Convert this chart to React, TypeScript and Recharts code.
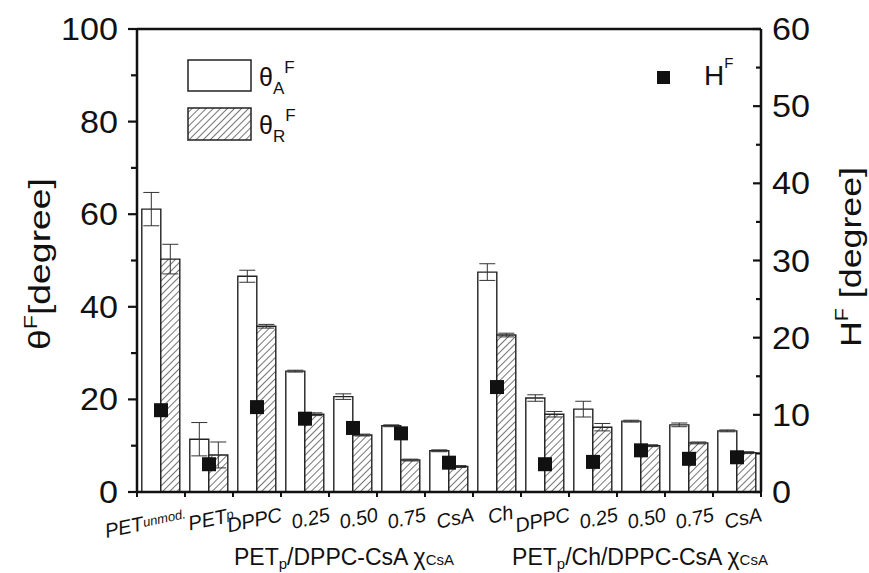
import React from "react";
import { ComposedChart, Bar, Scatter, XAxis, YAxis, ErrorBar, ReferenceLine } from "recharts";

// group members, "_" marks the small subscript part of a label
const categories = ["PET_unmod.", "PET_p", "DPPC", "0.25", "0.50", "0.75", "CsA", "Ch", "DPPC", "0.25", "0.50", "0.75", "CsA"];
const thetaA = [61.1, 11.4, 46.6, 26.1, 20.6, 14.3, 8.9, 47.5, 20.3, 17.9, 15.3, 14.5, 13.2];
const thetaAErr = [3.6, 3.6, 1.3, 0.2, 0.6, 0.2, 0.2, 1.8, 0.7, 1.7, 0.2, 0.4, 0.2];
const thetaR = [50.3, 8.0, 35.8, 16.8, 12.3, 6.9, 5.5, 33.9, 16.8, 14.0, 10.0, 10.6, 8.5];
const thetaRErr = [3.2, 2.8, 0.4, 0.3, 0.2, 0.2, 0.2, 0.4, 0.6, 0.8, 0.2, 0.2, 0.2];
const hf = [10.6, 3.6, 11.0, 9.5, 8.3, 7.6, 3.8, 13.6, 3.6, 3.9, 5.4, 4.3, 4.5];

const leftTicks = [0, 10, 20, 30, 40, 50, 60, 70, 80, 90, 100];
const rightTicks = [0, 5, 10, 15, 20, 25, 30, 35, 40, 45, 50, 55, 60];

const data = categories.map((name, i) => ({
  id: String(i),
  name,
  thetaA: thetaA[i],
  thetaAErr: thetaAErr[i],
  thetaR: thetaR[i],
  thetaRErr: thetaRErr[i],
  hf: hf[i],
}));

const W = 869;
const H = 573;
const LEFT_W = 137;
const RIGHT_W = 108;
const band = (W - LEFT_W - RIGHT_W) / categories.length;
const FONT = '"Liberation Sans", Arial, Helvetica, sans-serif';
const INK = "#111";
const DIGIT_W = 19;

function LeftTick({ x, y, payload }: any) {
  const v = payload.value;
  const major = v % 20 === 0;
  return (
    <g>
      <line x1={x - (major ? 9 : 6)} x2={x} y1={y} y2={y} stroke={INK} strokeWidth={2.2} />
      {major && (
        <text
          x={x - 19}
          y={y}
          dy={11}
          textAnchor="end"
          fontSize={31}
          fill={INK}
          fontFamily={FONT}
          textLength={String(v).length * DIGIT_W}
          lengthAdjust="spacingAndGlyphs"
        >
          {v}
        </text>
      )}
    </g>
  );
}

function RightTick({ x, y, payload }: any) {
  const v = payload.value;
  const major = v % 10 === 0;
  return (
    <g>
      <line x1={x - (major ? 8 : 5)} x2={x} y1={y} y2={y} stroke={INK} strokeWidth={2.2} />
      {major && (
        <text
          x={x + 11}
          y={y}
          dy={11}
          textAnchor="start"
          fontSize={31}
          fill={INK}
          fontFamily={FONT}
          textLength={String(v).length * DIGIT_W}
          lengthAdjust="spacingAndGlyphs"
        >
          {v}
        </text>
      )}
    </g>
  );
}

function XTick({ x, y, payload }: any) {
  const i = Number(payload.value);
  const [main, sub] = categories[i].split("_");
  const last = i === categories.length - 1;
  const short = categories[i].length <= 2;
  const tx = short ? x + 5 : x + 26;
  const ty = y + 29;
  return (
    <g>
      <line x1={x - band / 2} x2={x - band / 2} y1={y} y2={y + 5} stroke={INK} strokeWidth={2} />
      {last && <line x1={x + band / 2} x2={x + band / 2} y1={y} y2={y + 5} stroke={INK} strokeWidth={2} />}
      <text
        x={tx}
        y={ty}
        transform={`rotate(-12 ${tx} ${ty})`}
        textAnchor={short ? "middle" : "end"}
        fontStyle="italic"
        fontSize={20}
        fill={INK}
        fontFamily={FONT}
      >
        {main}
        {sub && (
          <tspan fontSize={13} dy={-3}>
            {sub}
          </tspan>
        )}
      </text>
    </g>
  );
}

const Square = (props: any) => (
  <rect x={props.cx - 7} y={props.cy - 7} width={14} height={14} fill={INK} />
);

function Overlay() {
  return (
    <svg width={W} height={H} style={{ position: "absolute", left: 0, top: 0, pointerEvents: "none" }}>
      <defs>
        <pattern id="hatch" width={5} height={5} patternUnits="userSpaceOnUse" patternTransform="rotate(45)">
          <rect width={5} height={5} fill="#fff" />
          <line x1={2.5} y1={0} x2={2.5} y2={5} stroke="#666" strokeWidth={0.9} />
        </pattern>
      </defs>

      {/* legend */}
      <rect x={188} y={60} width={63} height={31} fill="#fff" stroke="#222" strokeWidth={1.5} />
      <text x={259} y={86} fontSize={25} fill={INK} fontFamily={FONT}>
        θ<tspan fontSize={17} dy={8}>A</tspan>
        <tspan fontSize={17} dy={-21}>F</tspan>
      </text>
      <rect x={188} y={108} width={63} height={32} fill="url(#hatch)" stroke="#222" strokeWidth={1.5} />
      <text x={259} y={134} fontSize={25} fill={INK} fontFamily={FONT}>
        θ<tspan fontSize={17} dy={8}>R</tspan>
        <tspan fontSize={17} dy={-21}>F</tspan>
      </text>
      <rect x={657} y={71} width={13} height={13} fill={INK} />
      <text x={704} y={85} fontSize={28} fill={INK} fontFamily={FONT}>
        H<tspan fontSize={15} dy={-17}>F</tspan>
      </text>

      {/* axis titles */}
      <text
        transform="translate(50 264) rotate(-90)"
        textAnchor="middle"
        fontSize={29}
        fill={INK}
        fontFamily={FONT}
        textLength={172}
        lengthAdjust="spacingAndGlyphs"
      >
        θ<tspan fontSize={18} dy={-13}>F</tspan>
        <tspan dy={13}>[degree]</tspan>
      </text>
      <text
        transform="translate(861 257) rotate(-90)"
        textAnchor="middle"
        fontSize={30}
        fill={INK}
        fontFamily={FONT}
        textLength={180}
        lengthAdjust="spacingAndGlyphs"
      >
        H<tspan fontSize={18} dy={-13}>F</tspan>
        <tspan dy={13}> [degree]</tspan>
      </text>

      {/* group titles */}
      <text x={344} y={565} textAnchor="middle" fontSize={23} fill={INK} fontFamily={FONT}>
        PET<tspan fontSize={15} dy={4}>p</tspan>
        <tspan dy={-4}>/DPPC-CsA χ</tspan>
        <tspan fontSize={15}>CsA</tspan>
      </text>
      <text x={640} y={565} textAnchor="middle" fontSize={23} fill={INK} fontFamily={FONT}>
        PET<tspan fontSize={15} dy={4}>p</tspan>
        <tspan dy={-4}>/Ch/DPPC-CsA χ</tspan>
        <tspan fontSize={15}>CsA</tspan>
      </text>
    </svg>
  );
}

export default function App() {
  return (
    <div style={{ position: "absolute", left: 0, top: 0, width: W, height: H, background: "#fff", fontFamily: FONT }}>
      <ComposedChart
        width={W}
        height={H}
        data={data}
        margin={{ top: 29, right: 0, bottom: 0, left: 0 }}
        barCategoryGap="10%"
        barGap={0}
      >
        <XAxis
          dataKey="id"
          height={81}
          interval={0}
          tickSize={0}
          tickMargin={0}
          tickLine={false}
          axisLine={{ stroke: INK, strokeWidth: 2.5 }}
          tick={<XTick />}
        />
        <YAxis
          yAxisId="left"
          orientation="left"
          width={LEFT_W}
          domain={[0, 100]}
          ticks={leftTicks}
          interval={0}
          tickSize={0}
          tickMargin={0}
          tickLine={false}
          axisLine={{ stroke: INK, strokeWidth: 2.5 }}
          tick={<LeftTick />}
        />
        <YAxis
          yAxisId="right"
          orientation="right"
          width={RIGHT_W}
          domain={[0, 60]}
          ticks={rightTicks}
          interval={0}
          tickSize={0}
          tickMargin={0}
          tickLine={false}
          axisLine={{ stroke: INK, strokeWidth: 2.5 }}
          tick={<RightTick />}
        />
        <ReferenceLine yAxisId="left" y={100} stroke={INK} strokeWidth={2.5} />
        <Bar yAxisId="left" dataKey="thetaA" fill="#fff" stroke="#222" strokeWidth={1.4} isAnimationActive={false}>
          <ErrorBar dataKey="thetaAErr" width={8} stroke="#333" strokeWidth={1} />
        </Bar>
        <Bar yAxisId="left" dataKey="thetaR" fill="url(#hatch)" stroke="#222" strokeWidth={1.4} isAnimationActive={false}>
          <ErrorBar dataKey="thetaRErr" width={8} stroke="#333" strokeWidth={1} />
        </Bar>
        <Scatter yAxisId="right" dataKey="hf" shape={<Square />} isAnimationActive={false} />
      </ComposedChart>
      <Overlay />
    </div>
  );
}
